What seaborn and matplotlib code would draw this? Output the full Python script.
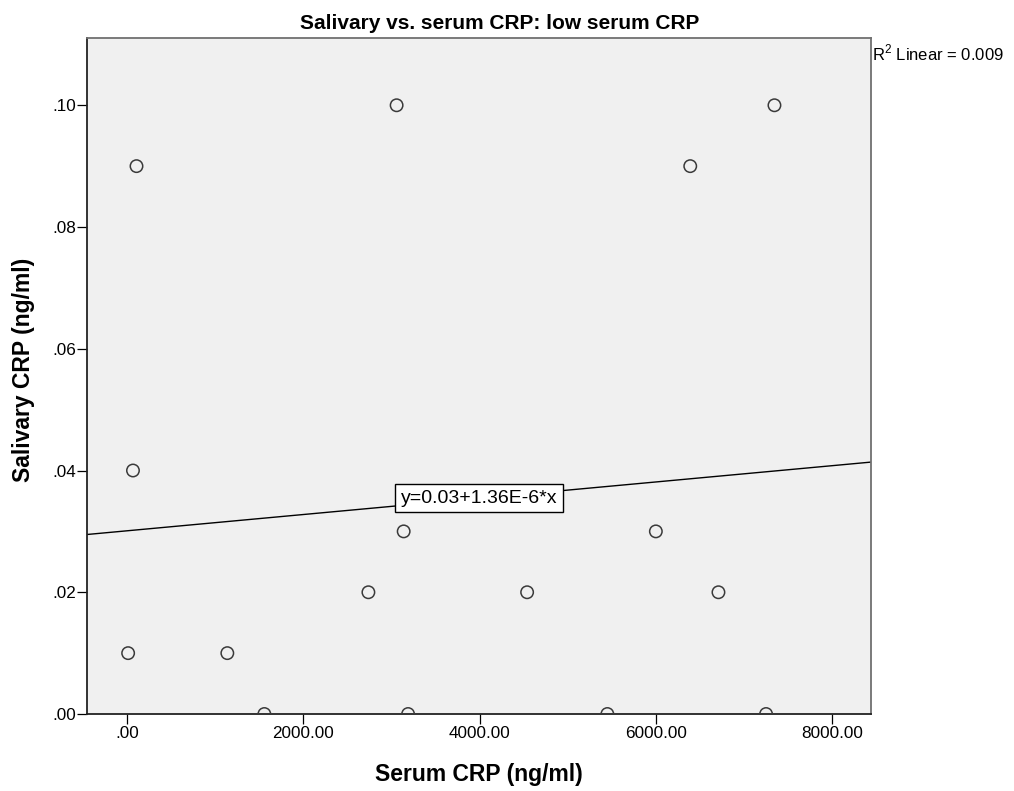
import numpy as np
import pandas as pd
import seaborn as sns
import matplotlib
matplotlib.use("Agg")
import matplotlib.pyplot as plt
from matplotlib.ticker import FuncFormatter

# valores
serum_crp = [15, 70, 110, 1140, 1560, 2740, 3060, 3140, 3190, 4540,
             5450, 6000, 6390, 6710, 7250, 7345]
salivary_crp = [0.01, 0.04, 0.09, 0.01, 0.00, 0.02, 0.10, 0.03, 0.00, 0.02,
                0.00, 0.03, 0.09, 0.02, 0.00, 0.10]
x_ticks = [0, 2000, 4000, 6000, 8000]
y_ticks = [0.00, 0.02, 0.04, 0.06, 0.08, 0.10]
equation_label = "y=0.03+1.36E-6*x"
r2_label = "R$^{2}$ Linear = 0.009"

dados = pd.DataFrame({"serum": serum_crp, "salivary": salivary_crp})

sns.set_style("white")
plt.rcParams["font.family"] = ["Liberation Sans", "DejaVu Sans"]
plt.rcParams["mathtext.fontset"] = "custom"
plt.rcParams["mathtext.rm"] = "Liberation Sans"
plt.rcParams["text.color"] = "black"
plt.rcParams["axes.labelcolor"] = "black"

fig = plt.figure(figsize=(10.14, 7.91), dpi=100)
ax = fig.add_axes([87.3 / 1014, 1 - 714 / 791, (871 - 87.3) / 1014, (714 - 38.3) / 791])
ax.set_facecolor("#F0F0F0")
ax.set_xlim(-448, 8440)
ax.set_ylim(0, 0.111)

sns.scatterplot(data=dados, x="serum", y="salivary", ax=ax, s=80,
                facecolor="none", edgecolor="#3a3a3a", linewidth=1.1, zorder=3)
sns.regplot(data=dados, x="serum", y="salivary", ax=ax, scatter=False, ci=None,
            truncate=False, line_kws=dict(color="black", lw=1.0))

ax.set_xticks(x_ticks)
ax.set_yticks(y_ticks)
ax.xaxis.set_major_formatter(FuncFormatter(lambda v, p: ("%.2f" % v).lstrip("0") if v == 0 else "%.2f" % v))
ax.yaxis.set_major_formatter(FuncFormatter(lambda v, p: ("%.2f" % v).lstrip("0")))
ax.tick_params(axis="both", direction="out", length=7.5, width=0.9, color="black",
               labelsize=12.3, labelcolor="black", bottom=True, left=True)
ax.tick_params(axis="x", pad=1.5)
ax.tick_params(axis="y", pad=0.8)

for lado in ["left", "bottom"]:
    ax.spines[lado].set_color("#222222")
    ax.spines[lado].set_linewidth(1.3)
for lado in ["top", "right"]:
    ax.spines[lado].set_color("#707070")
    ax.spines[lado].set_linewidth(1.3)

ax.set_title("Salivary vs. serum CRP: low serum CRP", fontsize=15, fontweight="bold",
             x=0.5266, pad=6.5, color="black")
ax.set_xlabel("Serum CRP (ng/ml)", fontsize=16.5, fontweight="bold")
ax.set_ylabel("Salivary CRP (ng/ml)", fontsize=16.5, fontweight="bold")
ax.xaxis.set_label_coords(0.5, -0.073)
ax.yaxis.set_label_coords(-0.067, 0.51)

# rótulo da equação no centro da reta
inclinacao, intercepto = np.polyfit(dados["serum"], dados["salivary"], 1)
xc = np.mean(ax.get_xlim())
ax.text(xc, intercepto + inclinacao * xc, equation_label, fontsize=14,
        ha="center", va="center", zorder=4,
        bbox=dict(boxstyle="square,pad=0.28", facecolor="white", edgecolor="black", linewidth=1.0))

fig.text(872 / 1014, 1 - 60 / 791, r2_label, fontsize=12, ha="left", va="baseline")

fig.savefig("out.png", dpi=100, facecolor="white")
